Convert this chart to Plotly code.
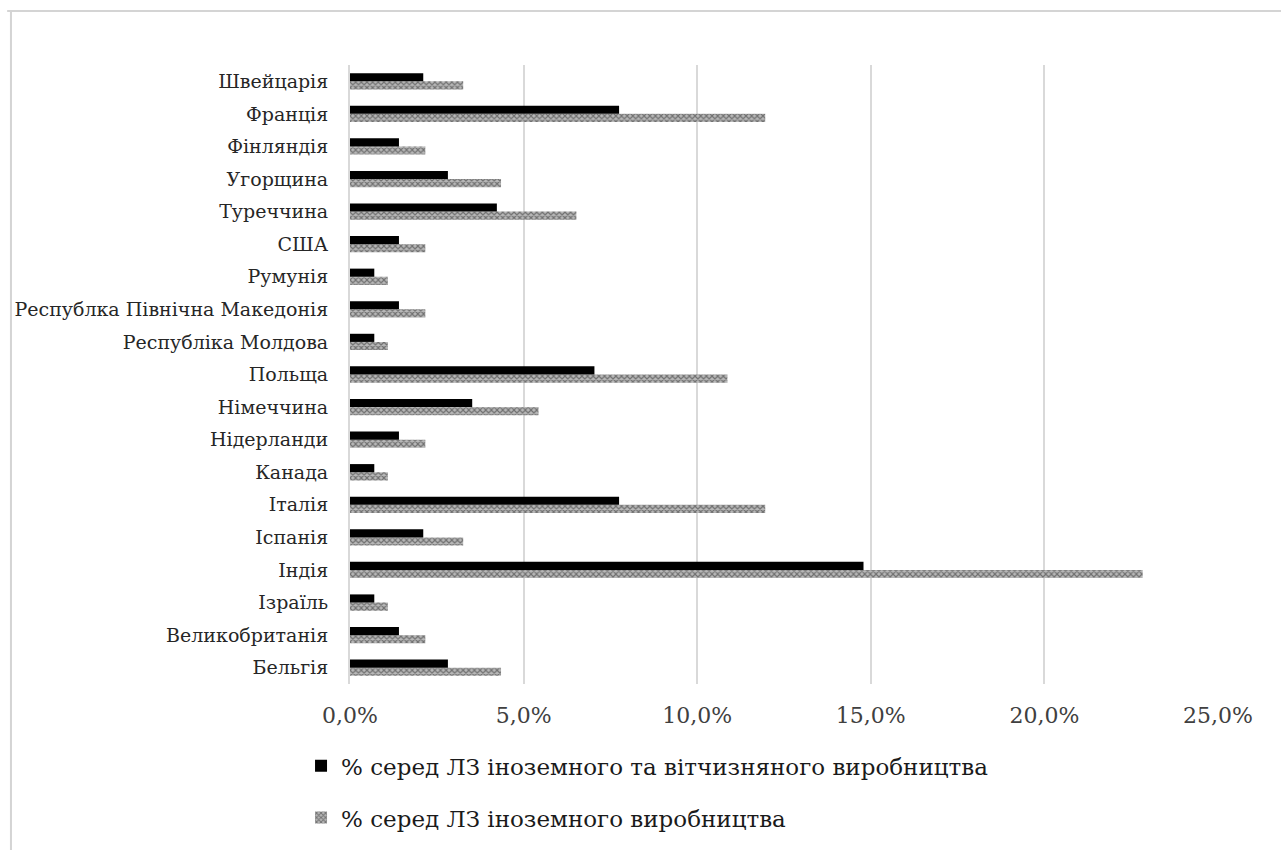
import plotly.graph_objects as go

# Countries, listed from the bottom of the chart to the top
countries = [
    "Бельгія", "Великобританія", "Ізраїль", "Індія", "Іспанія", "Італія",
    "Канада", "Нідерланди", "Німеччина", "Польща", "Республіка Молдова",
    "Республка Північна Македонія", "Румунія", "США", "Туреччина",
    "Угорщина", "Фінляндія", "Франція", "Швейцарія",
]

# Share among foreign and domestic medicines, %
share_all = [2.82, 1.41, 0.70, 14.79, 2.11, 7.75, 0.70, 1.41, 3.52, 7.04,
             0.70, 1.41, 0.70, 1.41, 4.23, 2.82, 1.41, 7.75, 2.11]

# Share among foreign medicines only, %
share_foreign = [4.35, 2.17, 1.09, 22.83, 3.26, 11.96, 1.09, 2.17, 5.43, 10.87,
                 1.09, 2.17, 1.09, 2.17, 6.52, 4.35, 2.17, 11.96, 3.26]

name_all = "% серед ЛЗ іноземного та вітчизняного виробництва"
name_foreign = "% серед ЛЗ іноземного виробництва"

x_ticks = [0, 5, 10, 15, 20, 25]
x_tick_text = ["0,0%", "5,0%", "10,0%", "15,0%", "20,0%", "25,0%"]

FONT = "DejaVu Serif"

fig = go.Figure()
fig.add_trace(go.Bar(
    y=countries, x=share_foreign, orientation="h", name=name_foreign,
    legendgroup="b", legendrank=2,
    marker=dict(
        color="white",
        line=dict(width=0),
        pattern=dict(shape="x", fgcolor="#2a2a2a", bgcolor="#b8b8b8",
                     size=4, solidity=0.5),
    ),
))
fig.add_trace(go.Bar(
    y=countries, x=share_all, orientation="h", name=name_all,
    legendgroup="a", legendrank=1,
    marker=dict(color="black", line=dict(width=0)),
))

# Outer frame of the chart area (top and left edges)
frame = dict(type="line", xref="paper", yref="paper",
             line=dict(color="#d4d4d4", width=2))
fig.add_shape(**frame, x0=-0.395, x1=1.2, y0=1.0872, y1=1.0872)
fig.add_shape(**frame, x0=-0.3906, x1=-0.3906, y0=1.0872, y1=-0.3)

fig.update_layout(
    width=1281, height=850,
    margin=dict(l=350, r=63, t=65, b=166, autoexpand=False),
    paper_bgcolor="white", plot_bgcolor="white",
    barmode="group", bargap=0.5, bargroupgap=0,
    font=dict(family=FONT, color="#262626", size=18),
    xaxis=dict(
        range=[0, 25], tickvals=x_ticks, ticktext=x_tick_text,
        showgrid=True, gridcolor="#d9d9d9", gridwidth=2,
        zeroline=False, showline=False, ticks="",
        tickfont=dict(family=FONT, size=22, color="#404040"),
        ticklabelstandoff=16, tickangle=0, automargin=False,
    ),
    yaxis=dict(
        categoryorder="array", categoryarray=countries,
        showgrid=False, zeroline=False,
        showline=True, linecolor="#d9d9d9", linewidth=2,
        ticks="", tickfont=dict(family=FONT, size=19, color="#262626"),
        ticklabelstandoff=16, automargin=False,
    ),
    legend=dict(
        orientation="v", traceorder="grouped",
        xref="container", yref="container",
        x=0.235, xanchor="left", y=0.1245, yanchor="top",
        font=dict(family=FONT, size=23, color="#1a1a1a"),
        tracegroupgap=19, itemwidth=30,
        bgcolor="rgba(0,0,0,0)",
    ),
)

fig.write_html("out.html")
